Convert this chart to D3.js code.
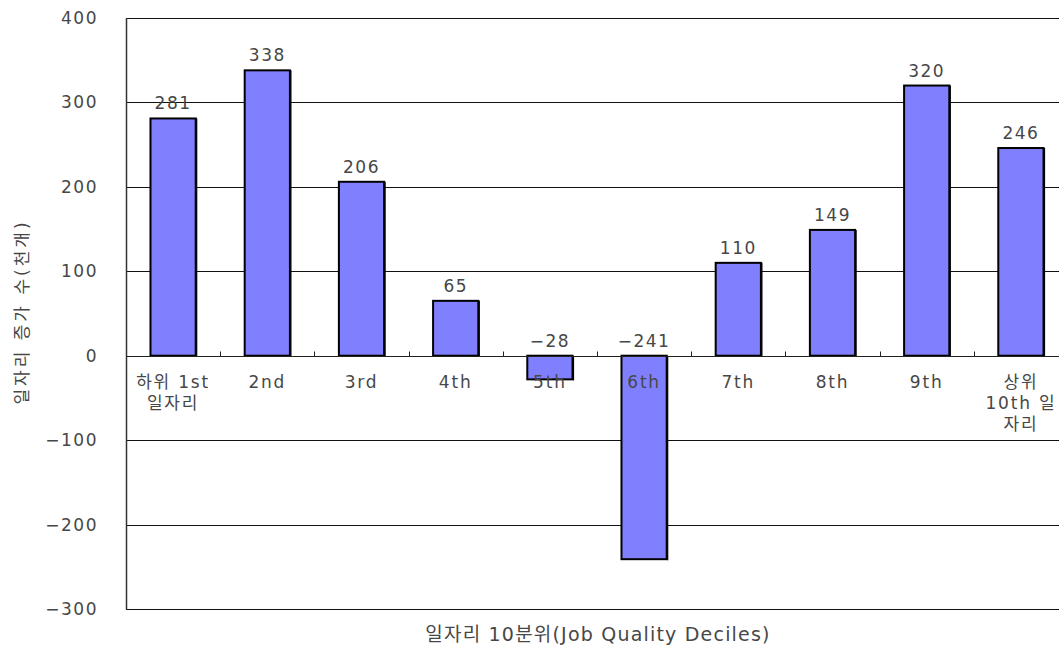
<!DOCTYPE html>
<html>
<head>
<meta charset="utf-8">
<script src="https://cdn.jsdelivr.net/npm/d3@7"></script>
<style>
  body { margin: 0; background: #fff; }
  text { font-family: "DejaVu Sans", "Noto Sans CJK KR", sans-serif; fill: #474747; }
</style>
</head>
<body>
<svg id="chart" width="1059" height="650"></svg>
<script>
// Job growth by job-quality decile (thousands)
const categories = ["d1", "d2", "d3", "d4", "d5", "d6", "d7", "d8", "d9", "d10"];
const categoryLabels = [
  ["하위 1st", "일자리"],
  ["2nd"], ["3rd"], ["4th"], ["5th"], ["6th"], ["7th"], ["8th"], ["9th"],
  ["상위", "10th 일", "자리"]
];
const values = [281, 338, 206, 65, -28, -241, 110, 149, 320, 246];
const yTicks = [-300, -200, -100, 0, 100, 200, 300, 400];
const yTitle = "일자리 증가 수(천개)";
const xTitle = "일자리 10분위(Job Quality Deciles)";

const svg = d3.select("#chart");
const plotLeft = 126, plotRight = 1068, plotTop = 18, plotBottom = 609;

const x = d3.scaleBand().domain(categories).range([plotLeft, plotRight]).paddingInner(0.52).paddingOuter(0.26);
const xb = d3.scaleBand().domain(categories).range([plotLeft, plotRight]);
const y = d3.scaleLinear().domain([-300, 400]).range([plotBottom, plotTop]);

const fmt = d => d < 0 ? "\u2212" + Math.abs(d) : String(d);

// horizontal gridlines and frame
svg.append("g").selectAll("line").data(yTicks).join("line")
  .attr("x1", plotLeft).attr("x2", plotRight)
  .attr("y1", d => Math.round(y(d)) + 0.5).attr("y2", d => Math.round(y(d)) + 0.5)
  .attr("stroke", "#111").attr("stroke-width", 1);

svg.append("line").attr("x1", plotLeft + 0.5).attr("x2", plotLeft + 0.5)
  .attr("y1", plotTop).attr("y2", plotBottom + 0.5).attr("stroke", "#333").attr("stroke-width", 1.5);

// y tick labels
svg.append("g").selectAll("text").data(yTicks).join("text")
  .attr("x", 98).attr("y", d => y(d) + 6)
  .attr("text-anchor", "end")
  .attr("font-size", 17).attr("letter-spacing", 1.5)
  .text(fmt);

// bars
const bars = svg.append("g");
bars.selectAll("rect").data(values).join("rect")
  .attr("x", (d, i) => x(categories[i]))
  .attr("width", x.bandwidth())
  .attr("y", d => y(Math.max(0, d)))
  .attr("height", d => Math.abs(y(d) - y(0)))
  .attr("fill", "#8080ff").attr("stroke", "#000").attr("stroke-width", 2);
// darker right edge on each bar
bars.selectAll("line").data(values).join("line")
  .attr("x1", (d, i) => x(categories[i]) + x.bandwidth() + 1)
  .attr("x2", (d, i) => x(categories[i]) + x.bandwidth() + 1)
  .attr("y1", d => y(Math.max(0, d)))
  .attr("y2", d => y(Math.min(0, d)) + 1)
  .attr("stroke", "#000").attr("stroke-width", 1.2);

// zero axis with small upward ticks between categories
const y0 = Math.round(y(0)) + 0.5;
svg.append("line").attr("x1", plotLeft).attr("x2", plotRight).attr("y1", y0).attr("y2", y0)
  .attr("stroke", "#222").attr("stroke-width", 1.2);
svg.append("g").selectAll("line").data(categories.slice(1)).join("line")
  .attr("x1", d => Math.round(xb(d)) + 0.5).attr("x2", d => Math.round(xb(d)) + 0.5)
  .attr("y1", y0 - 5).attr("y2", y0)
  .attr("stroke", "#222").attr("stroke-width", 1);

// value labels
svg.append("g").selectAll("text").data(values).join("text")
  .attr("x", (d, i) => x(categories[i]) + x.bandwidth() / 2)
  .attr("y", d => (d >= 0 ? y(d) : y(0)) - 9)
  .attr("text-anchor", "middle")
  .attr("font-size", 17).attr("letter-spacing", 1.5)
  .text(fmt);

// category labels
const catG = svg.append("g");
categoryLabels.forEach((lines, i) => {
  const cx = xb(categories[i]) + xb.bandwidth() / 2;
  lines.forEach((t, j) => {
    catG.append("text")
      .attr("x", cx).attr("y", 388 + j * 21)
      .attr("text-anchor", "middle")
      .attr("font-size", 17).attr("letter-spacing", 1.8)
      .text(t);
  });
});

// axis titles
svg.append("text")
  .attr("transform", "translate(28,312) rotate(-90)")
  .attr("text-anchor", "middle").attr("font-size", 17).attr("letter-spacing", 3)
  .text(yTitle);
svg.append("text")
  .attr("x", 598).attr("y", 641)
  .attr("text-anchor", "middle").attr("font-size", 19).attr("letter-spacing", 1.2)
  .text(xTitle);
</script>
</body>
</html>
